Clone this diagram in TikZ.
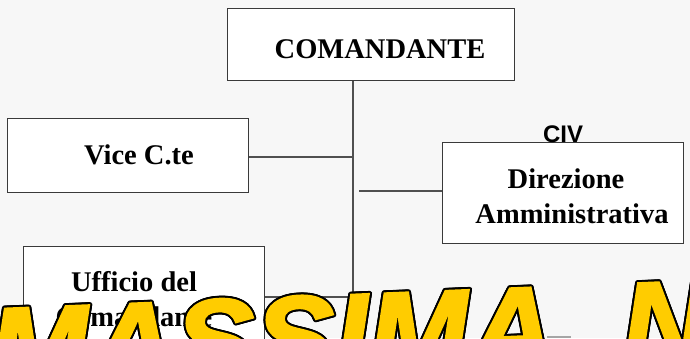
\documentclass[tikz,border=0pt]{standalone}
\usepackage{fontspec}
\setmainfont{Liberation Serif}
\newfontfamily\civfont{Liberation Sans}
\newfontfamily\wmfont{Liberation Sans Bold Italic}[FakeBold=2]
\usetikzlibrary{calc}
\definecolor{bg}{HTML}{F7F7F7}
\definecolor{wmyellow}{HTML}{FFCC00}
\definecolor{boxline}{HTML}{3A3A3A}
\definecolor{conn}{HTML}{505050}
\begin{document}
\begin{tikzpicture}[x=1pt,y=-1pt,
  box/.style={draw=boxline, line width=1pt, fill=white},
  lbl/.style={anchor=base, inner sep=0pt, font=\bfseries\fontsize{28.5}{34}\selectfont},
  conline/.style={draw=conn, line width=1.2pt},
  wm/.style={anchor=base west, rotate=2.3, inner sep=0pt, font=\wmfont\fontsize{120}{120}\selectfont}]
\useasboundingbox (0,0) rectangle (690,338);
\fill[bg] (0,0) rectangle (690,338);
\clip (0,0) rectangle (690,338);
% connectors
\coordinate (vtop) at (353,80);
\coordinate (vbot) at (353,345);
\coordinate (jv) at (353,157);
\coordinate (jd) at (359,191);
\coordinate (ju) at (353,297);
\draw[conline] (vtop) -- (vbot);
% boxes
\node[box, minimum width=287pt, minimum height=72pt, inner sep=0pt] (cmd) at (370.5,44) {};
\node[box, minimum width=241pt, minimum height=74pt, inner sep=0pt] (vice) at (127.5,155) {};
\node[box, minimum width=241pt, minimum height=101pt, inner sep=0pt] (dir) at (562.5,192.5) {};
\node[box, minimum width=241pt, minimum height=99pt, inner sep=0pt] (uff) at (143.5,295.5) {};
\draw[conline] (vice.east |- jv) -- (jv);
\draw[conline] (jd) -- (dir.west |- jd);
\draw[conline] (uff.east |- ju) -- (ju);
% texts
\node[lbl] (tcmd) at (380,58) {COMANDANTE};
\node[lbl] (tvice) at (139,164) {Vice C.te};
\node[lbl] (tdir1) at (566,188) {Direzione};
\node[lbl] (tdir2) at (572,223) {Amministrativa};
\node[lbl] (tuff1) at (134,291) {Ufficio del};
\node[lbl] (tuff2) at (134,326) {Comandante};
\node[anchor=base, inner sep=0pt, font=\civfont\bfseries\fontsize{24}{28}\selectfont] (civ) at (563,142) {CIV};
% small grey mark
\fill[gray!70] (547,336) rectangle (571,338);
% watermark
\coordinate (wmo) at (-10,392);
\foreach \a in {0,22.5,...,337.5}
  \node[wm, text=black] at ($(wmo)+(\a:2)$) {MASSIMA\hspace{0.56em}N};
\node[wm, text=wmyellow] (wmk) at (wmo) {MASSIMA\hspace{0.56em}N};
\end{tikzpicture}
\end{document}
